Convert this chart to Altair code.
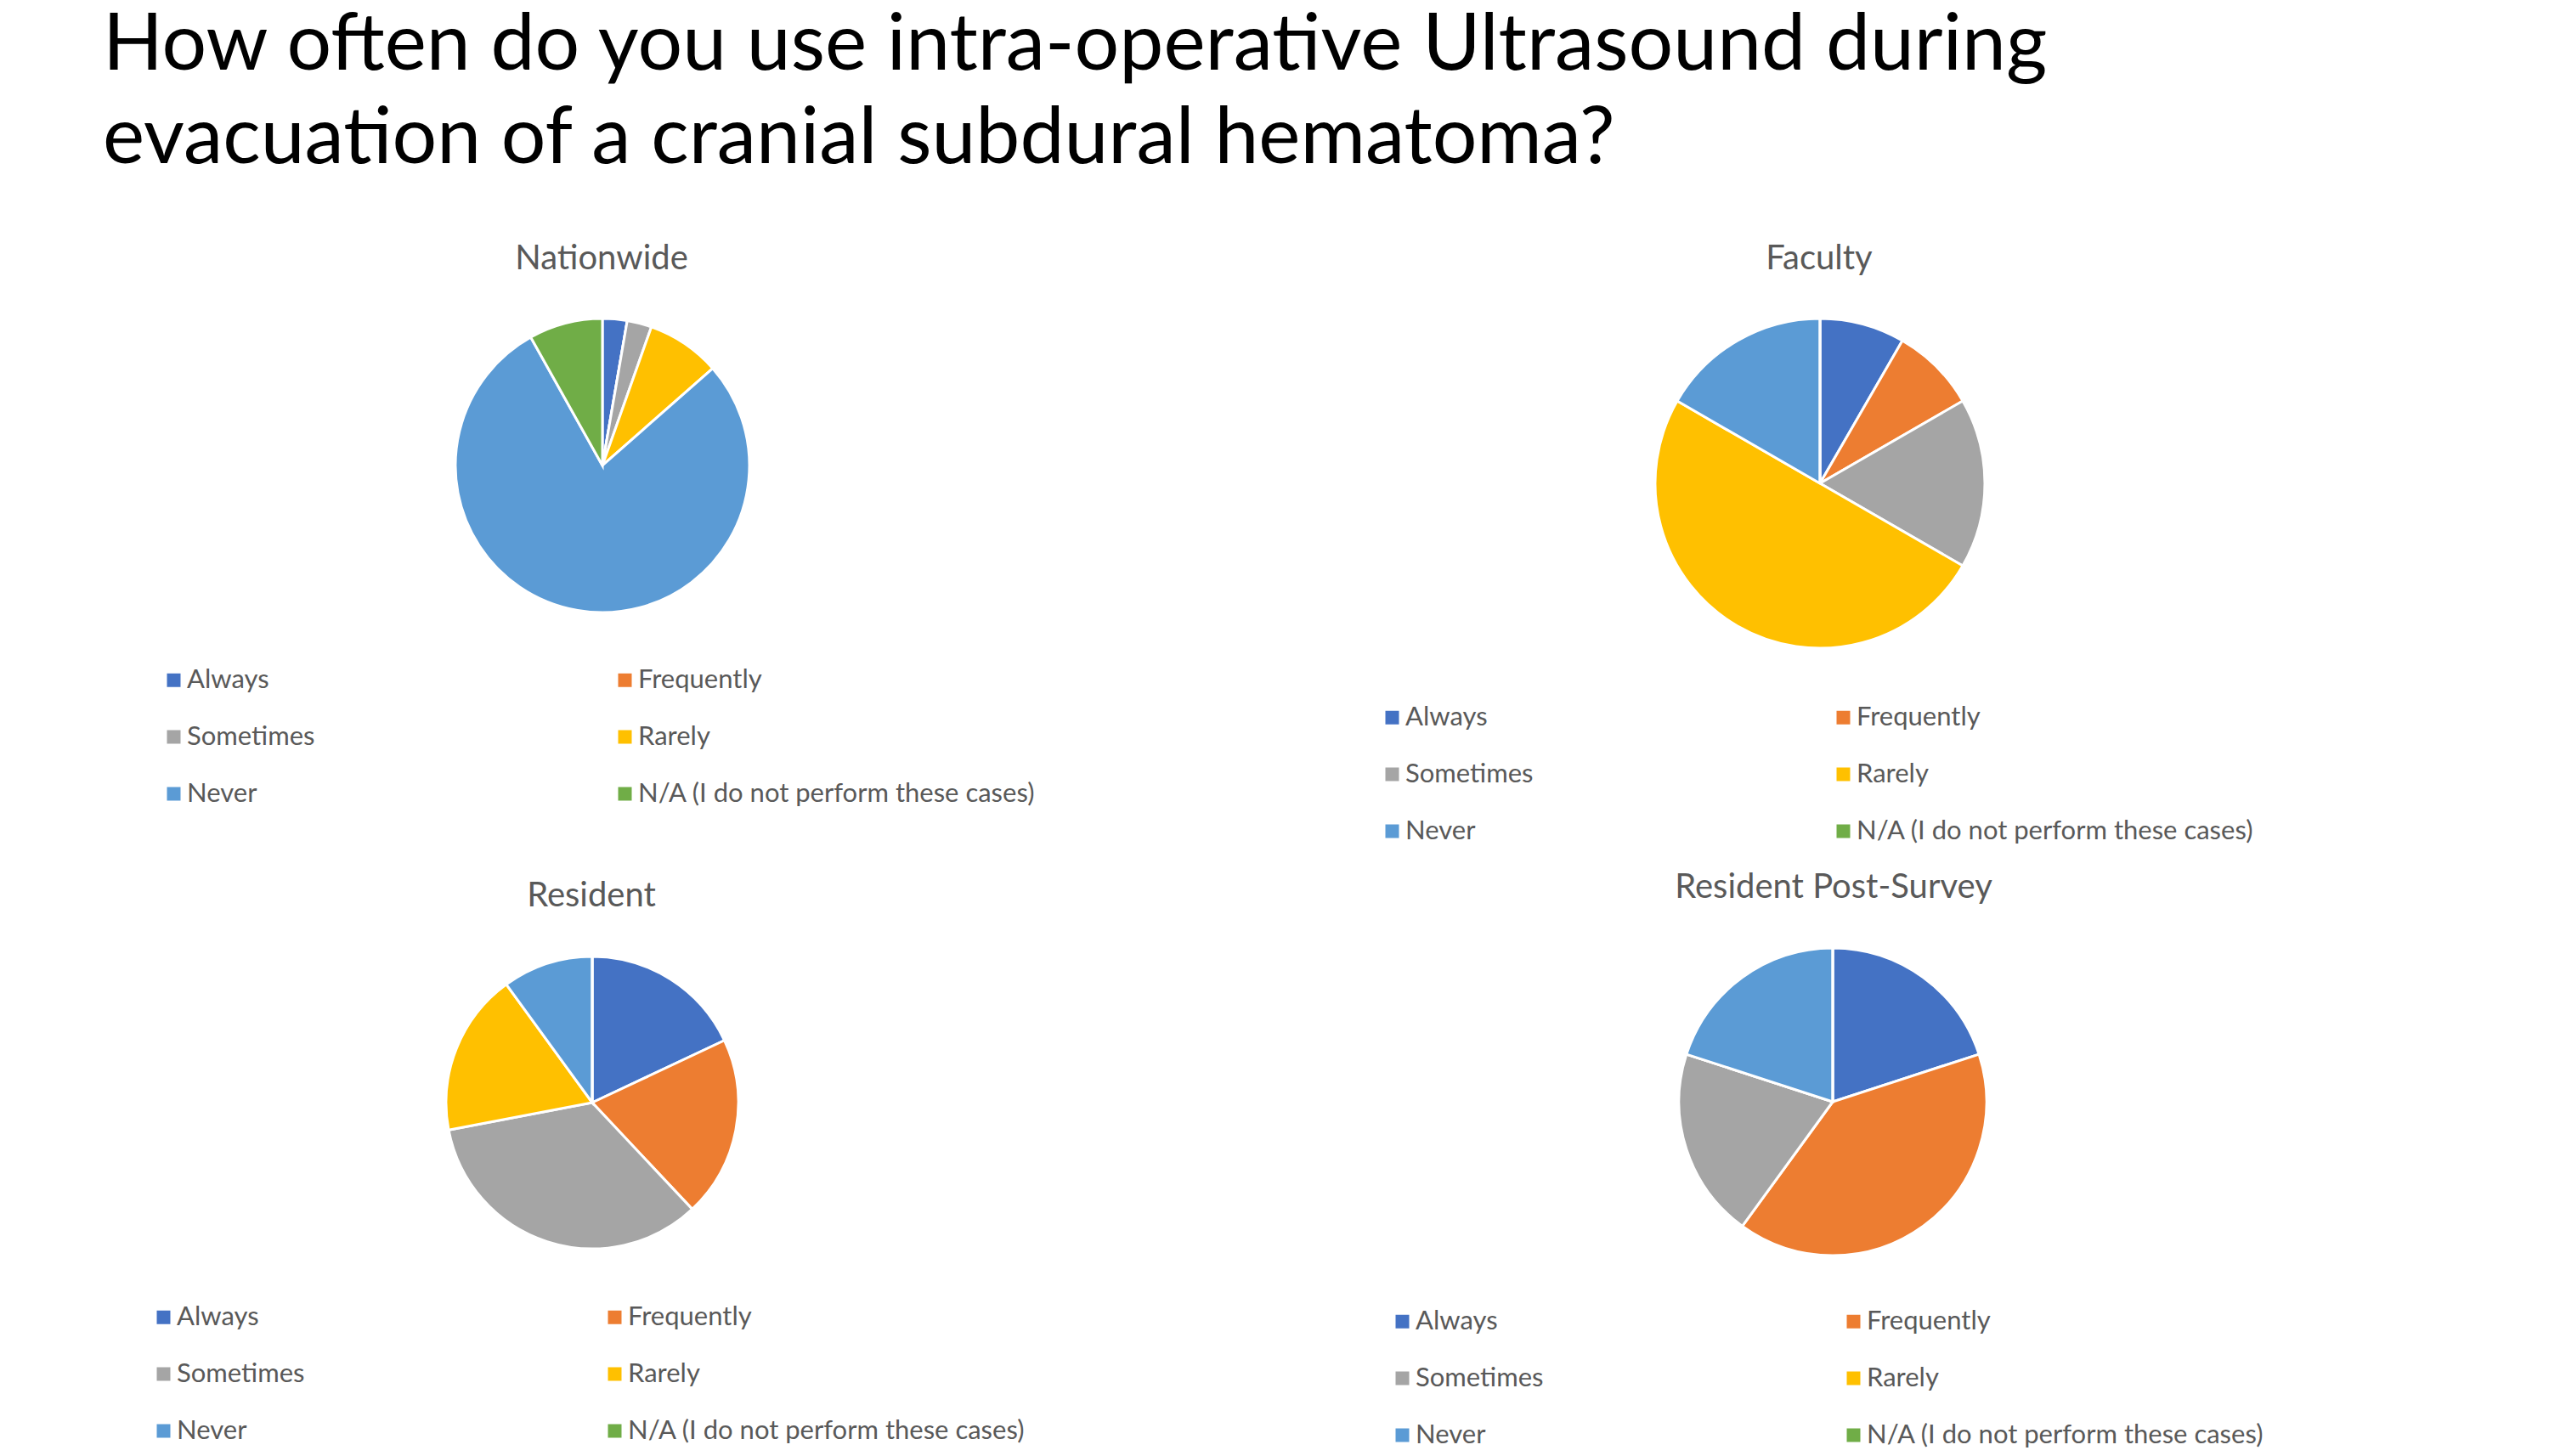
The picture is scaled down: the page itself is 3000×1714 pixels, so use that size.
import altair as alt
import pandas as pd

categories = ["Always", "Frequently", "Sometimes", "Rarely", "Never",
              "N/A (I do not perform these cases)"]
colors = ["#4472C4", "#ED7D31", "#A5A5A5", "#FFC000", "#5B9BD5", "#70AD47"]

panel_titles = ["Nationwide", "Faculty", "Resident", "Resident Post-Survey"]
nationwide = [1, 0, 1, 3, 29, 3]
faculty = [1, 1, 2, 6, 2, 0]
resident = [18, 20, 34, 18, 10, 0]
resident_post = [1, 2, 1, 0, 1, 0]
series = [nationwide, faculty, resident, resident_post]

main_title = ["How often do you use intra-operative Ultrasound during",
              "evacuation of a cranial subdural hematoma?"]

FONT = "Lato"
GREY = "#595959"

# layout (chart pixel coords)
pie_center = [(701, 540), (2134, 561), (689, 1290), (2149, 1289)]
pie_radius = [173, 194, 172, 181]
title_pos = [(700, 297), (2133, 297), (688, 1047), (2150, 1037)]
legend_pos = [(181, 777), (1615, 821), (169, 1527), (1627, 1532)]

layers = []
for i, (name, vals) in enumerate(zip(panel_titles, series)):
    df = pd.DataFrame({
        "category": categories,
        "value": vals,
        "order": list(range(len(categories))),
        "panel": name,
    })
    cx, cy = pie_center[i]
    lx, ly = legend_pos[i]
    pie = alt.Chart(df).mark_arc(
        radius=pie_radius[i], stroke="white", strokeWidth=3
    ).encode(
        theta=alt.Theta("value:Q", stack=True),
        color=alt.Color(
            "category:N",
            scale=alt.Scale(domain=categories, range=colors),
            legend=alt.Legend(
                title=None, orient="none", legendX=lx, legendY=ly,
                direction="horizontal", columns=2, columnPadding=349,
                rowPadding=35, symbolType="square", symbolSize=256,
                symbolStrokeWidth=0, labelFont=FONT, labelFontSize=31,
                labelColor=GREY, labelOffset=0, labelLimit=800,
                padding=0,
            ),
        ),
        order=alt.Order("order:Q", sort="ascending"),
        x=alt.value(cx),
        y=alt.value(cy),
    )
    tx, ty = title_pos[i]
    title = alt.Chart(pd.DataFrame({"t": [name]})).mark_text(
        font=FONT, fontSize=40, color=GREY, align="center", baseline="middle"
    ).encode(text="t:N", x=alt.value(tx), y=alt.value(ty))
    layers.append(pie)
    layers.append(title)

head = alt.Chart(pd.DataFrame({"t": [0]})).mark_text(
    text=main_title, font=FONT, fontSize=93, color="#000000",
    align="left", baseline="alphabetic", lineHeight=110,
).encode(x=alt.value(113), y=alt.value(74))
layers.append(head)

chart = alt.layer(*layers).resolve_scale(
    theta="independent", color="independent"
).resolve_legend(color="independent").properties(
    width=2984, height=1698, autosize=alt.AutoSizeParams(type="none"),
    padding=0,
).configure_view(stroke=None)

chart.save("out.html", embed_options={"renderer": "svg", "actions": False})
